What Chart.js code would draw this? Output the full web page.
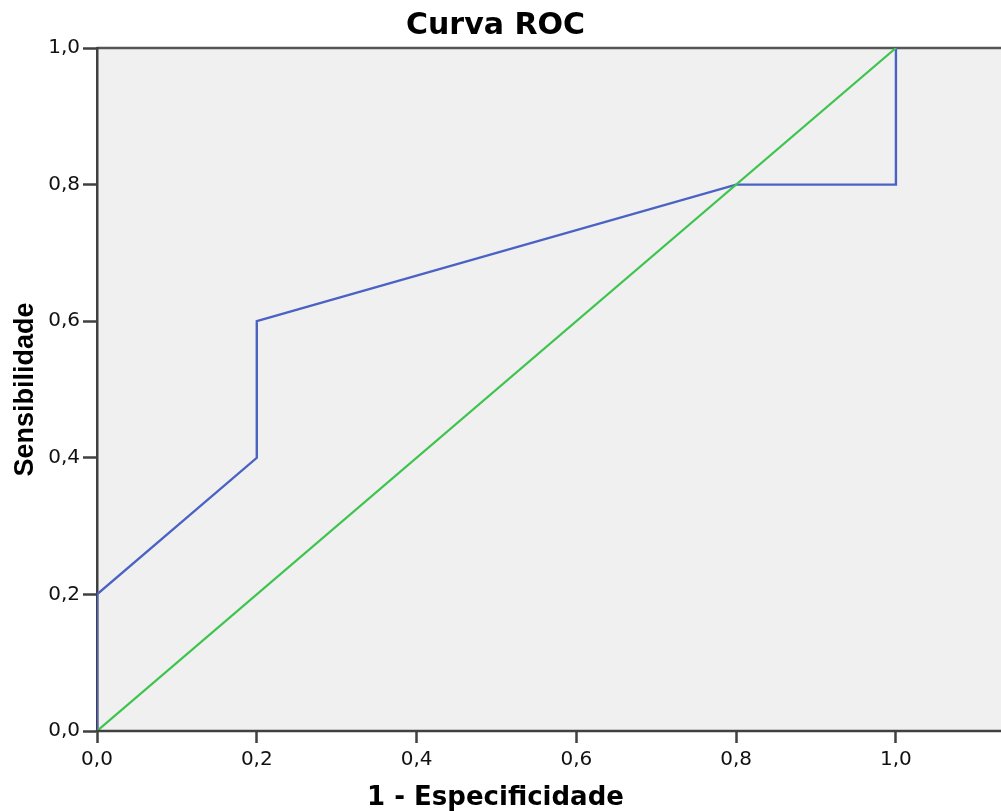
<!DOCTYPE html>
<html>
<head>
<meta charset="utf-8">
<script src="https://cdn.jsdelivr.net/npm/chart.js@4.4.0/dist/chart.umd.min.js"></script>
<style>
  html, body { margin: 0; padding: 0; background: #ffffff; }
  #wrap { width: 1001px; height: 811px; }
</style>
</head>
<body>
<div id="wrap"><canvas id="c" width="1001" height="811"></canvas></div>
<script>
// ---- data ----
const rocX = [0.0, 0.0, 0.2, 0.2, 0.8, 1.0, 1.0];
const rocY = [0.0, 0.2, 0.4, 0.6, 0.8, 0.8, 1.0];
const refX = [0.0, 1.0];
const refY = [0.0, 1.0];
const tickValues = [0.0, 0.2, 0.4, 0.6, 0.8, 1.0];
const titleText = 'Curva ROC';
const xTitleText = '1 - Especificidade';
const yTitleText = 'Sensibilidade';

const toPts = (xs, ys) => xs.map((x, i) => ({ x: x, y: ys[i] }));
const fmt = v => v.toFixed(1).replace('.', ',');

const AXIS = '#404040';

const framePlugin = {
  id: 'frame',
  beforeDraw(chart) {
    const { ctx, chartArea: a } = chart;
    ctx.save();
    ctx.fillStyle = '#f0f0f0';
    ctx.fillRect(a.left, a.top, chart.width - a.left, a.bottom - a.top);
    ctx.strokeStyle = '#555555';
    ctx.lineWidth = 2.5;
    ctx.beginPath();
    ctx.moveTo(a.left, a.top);
    ctx.lineTo(chart.width, a.top);
    ctx.stroke();
    ctx.restore();
  },
  afterDraw(chart) {
    const { ctx, chartArea: a } = chart;
    ctx.save();
    ctx.strokeStyle = AXIS;
    ctx.lineWidth = 2.5;
    ctx.beginPath();
    ctx.moveTo(a.left - 1.25, a.bottom);
    ctx.lineTo(chart.width, a.bottom);
    ctx.stroke();
    ctx.restore();
  }
};

new Chart(document.getElementById('c'), {
  type: 'scatter',
  data: {
    datasets: [
      {
        data: toPts(refX, refY),
        showLine: true,
        borderColor: '#3ec44e',
        borderWidth: 2.2,
        pointRadius: 0,
        tension: 0
      },
      {
        data: toPts(rocX, rocY),
        showLine: true,
        borderColor: '#4a62c4',
        borderWidth: 2.4,
        pointRadius: 0,
        tension: 0
      }
    ]
  },
  options: {
    responsive: false,
    animation: false,
    layout: { padding: { left: 0, right: 10, top: 0, bottom: 0 } },
    plugins: {
      legend: { display: false },
      tooltip: { enabled: false },
      title: {
        display: true,
        text: titleText,
        color: '#000000',
        font: { family: 'DejaVu Sans', size: 30, weight: 'bold', lineHeight: 1.2 },
        padding: { top: 8, bottom: 4 }
      },
      subtitle: {
        display: true,
        position: 'bottom',
        text: xTitleText,
        color: '#000000',
        font: { family: 'DejaVu Sans', size: 26, weight: 'bold', lineHeight: 1.0 },
        padding: { top: 2, bottom: 0 }
      }
    },
    scales: {
      x: {
        type: 'linear',
        min: 0,
        max: 1.119,
        afterBuildTicks(scale) {
          scale.ticks = tickValues.map(v => ({ value: v }));
        },
        afterFit(scale) { scale.height = 52; },
        ticks: {
          includeBounds: false,
          callback: v => fmt(v),
          color: '#111111',
          font: { family: 'DejaVu Sans', size: 20 },
          padding: 5,
          maxRotation: 0,
          autoSkip: false
        },
        grid: {
          display: true,
          drawOnChartArea: false,
          drawTicks: true,
          tickLength: 12,
          tickWidth: 2.5,
          tickColor: AXIS
        },
        border: { display: false }
      },
      y: {
        type: 'linear',
        min: 0,
        max: 1,
        afterBuildTicks(scale) {
          scale.ticks = tickValues.map(v => ({ value: v }));
        },
        afterFit(scale) { scale.width = 97; },
        ticks: {
          includeBounds: false,
          callback: v => fmt(v),
          color: '#111111',
          font: { family: 'DejaVu Sans', size: 20 },
          padding: 3,
          autoSkip: false
        },
        grid: {
          display: true,
          drawOnChartArea: false,
          drawTicks: true,
          tickLength: 14,
          tickWidth: 2.5,
          tickColor: AXIS
        },
        border: { display: true, color: AXIS, width: 2.5 },
        title: {
          display: true,
          text: yTitleText,
          color: '#000000',
          font: { family: 'Liberation Sans', size: 27, weight: 'bold', lineHeight: 1.2 },
          padding: { top: 9, bottom: 0 }
        }
      }
    }
  },
  plugins: [framePlugin]
});
</script>
</body>
</html>
